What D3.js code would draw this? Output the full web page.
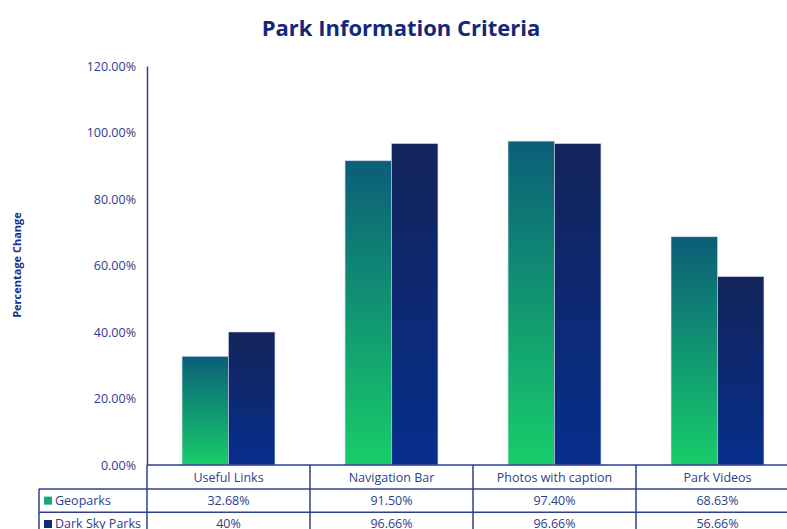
<!DOCTYPE html>
<html>
<head>
<meta charset="utf-8">
<script src="https://cdn.jsdelivr.net/npm/d3@7"></script>
<style>
  html, body { margin: 0; padding: 0; background: #fff; }
  svg { display: block; font-family: "Open Sans", "Noto Sans", sans-serif; }
</style>
</head>
<body>
<svg id="chart" width="787" height="529"></svg>
<script>
// Park information criteria: share of parks meeting each criterion
const categories = ["Useful Links", "Navigation Bar", "Photos with caption", "Park Videos"];
const seriesNames = ["Geoparks", "Dark Sky Parks"];
const geoparks = [32.68, 91.50, 97.40, 68.63];
const darkSkyParks = [40, 96.66, 96.66, 56.66];
const tableLabelsGeo = ["32.68%", "91.50%", "97.40%", "68.63%"];
const tableLabelsDark = ["40%", "96.66%", "96.66%", "56.66%"];
const yTicks = [0, 20, 40, 60, 80, 100, 120];

const svg = d3.select("#chart");
const axisColor = "#2e3f8f";
const textColor = "#2c3e8c";

const plotLeft = 147, plotTop = 66, plotBottom = 465;
const x0 = d3.scaleBand().domain(categories).range([plotLeft, plotLeft + 4 * 163])
  .paddingInner(0.43).paddingOuter(0.215);
const x1 = d3.scaleBand().domain(seriesNames).range([0, x0.bandwidth()]).padding(0);
const y = d3.scaleLinear().domain([0, 120]).range([plotBottom, plotTop]);

// Gradients, one per series, stretched over each bar
const defs = svg.append("defs");
const grads = [
  { id: "g-geo", top: "#0b5e79", bottom: "#18cd6a" },
  { id: "g-dark", top: "#13245a", bottom: "#062e8b" }
];
grads.forEach(g => {
  const lg = defs.append("linearGradient").attr("id", g.id)
    .attr("x1", 0).attr("y1", 0).attr("x2", 0).attr("y2", 1);
  lg.append("stop").attr("offset", "0%").attr("stop-color", g.top);
  lg.append("stop").attr("offset", "100%").attr("stop-color", g.bottom);
});

// Title
svg.append("text")
  .attr("x", 401).attr("y", 36)
  .attr("text-anchor", "middle")
  .attr("font-size", 22).attr("font-weight", 700)
  .attr("fill", "#14287a")
  .text("Park Information Criteria");

// Y axis title
svg.append("text")
  .attr("transform", `translate(21,265) rotate(-90)`)
  .attr("text-anchor", "middle")
  .attr("font-size", 11).attr("font-weight", 700)
  .attr("fill", "#1b2f82")
  .text("Percentage Change");

// Y axis
const yAxis = d3.axisLeft(y).tickValues(yTicks).tickSize(0).tickPadding(11)
  .tickFormat(d => d3.format(".2f")(d) + "%");
const gy = svg.append("g").attr("transform", `translate(${plotLeft},0)`).call(yAxis);
gy.select(".domain").attr("stroke", axisColor).attr("stroke-width", 1.5);
gy.selectAll("text").attr("font-size", 12.5).attr("fill", textColor)
  .attr("font-family", "'Open Sans', sans-serif");

// Bars
const data = categories.map((c, i) => ({ cat: c, values: [geoparks[i], darkSkyParks[i]] }));
const groups = svg.append("g").selectAll("g").data(data).join("g")
  .attr("transform", d => `translate(${x0(d.cat)},0)`);
groups.selectAll("rect")
  .data(d => d.values.map((v, j) => ({ series: seriesNames[j], value: v, j })))
  .join("rect")
  .attr("x", d => x1(d.series))
  .attr("y", d => y(d.value))
  .attr("width", x1.bandwidth())
  .attr("height", d => plotBottom - y(d.value))
  .attr("fill", d => `url(#${grads[d.j].id})`)
  .attr("stroke", "#c9d2e3").attr("stroke-width", 0.6);

// Data table beneath the axis
const tableLeft = 39, tableRight = 800;
const rowH = 23.3;
const headerBottom = plotBottom + 24;
const t = svg.append("g");
const lineAttrs = sel => sel.attr("stroke", axisColor).attr("stroke-width", 1.5);

// horizontal lines
lineAttrs(t.append("line").attr("x1", plotLeft).attr("x2", tableRight).attr("y1", plotBottom).attr("y2", plotBottom));
[0, 1, 2].forEach(r => {
  lineAttrs(t.append("line").attr("x1", tableLeft).attr("x2", tableRight)
    .attr("y1", headerBottom + r * rowH).attr("y2", headerBottom + r * rowH));
});
// vertical lines
lineAttrs(t.append("line").attr("x1", tableLeft).attr("x2", tableLeft)
  .attr("y1", headerBottom).attr("y2", 540));
const step = x0.step();
[0, 1, 2, 3].forEach(i => {
  const xv = plotLeft + i * step;
  lineAttrs(t.append("line").attr("x1", xv).attr("x2", xv)
    .attr("y1", plotBottom).attr("y2", 540));
});

// category labels
t.selectAll("text.cat").data(categories).join("text").attr("class", "cat")
  .attr("x", d => x0(d) + x0.bandwidth() / 2)
  .attr("y", plotBottom + 17)
  .attr("text-anchor", "middle").attr("font-size", 12.5).attr("fill", textColor)
  .text(d => d);

// series rows
const rows = [
  { name: seriesNames[0], labels: tableLabelsGeo, color: "#16a878" },
  { name: seriesNames[1], labels: tableLabelsDark, color: "#0c2a78" }
];
rows.forEach((r, ri) => {
  const cy = headerBottom + ri * rowH + rowH / 2;
  t.append("rect").attr("x", tableLeft + 5).attr("y", cy - 4).attr("width", 8).attr("height", 8)
    .attr("fill", r.color);
  t.append("text").attr("x", tableLeft + 16).attr("y", cy + 4.5)
    .attr("font-size", 12.5).attr("fill", textColor).text(r.name);
  t.selectAll(null).data(r.labels).join("text")
    .attr("x", (d, i) => x0(categories[i]) + x0.bandwidth() / 2)
    .attr("y", cy + 4.5)
    .attr("text-anchor", "middle").attr("font-size", 12.5).attr("fill", textColor)
    .text(d => d);
});
</script>
</body>
</html>
